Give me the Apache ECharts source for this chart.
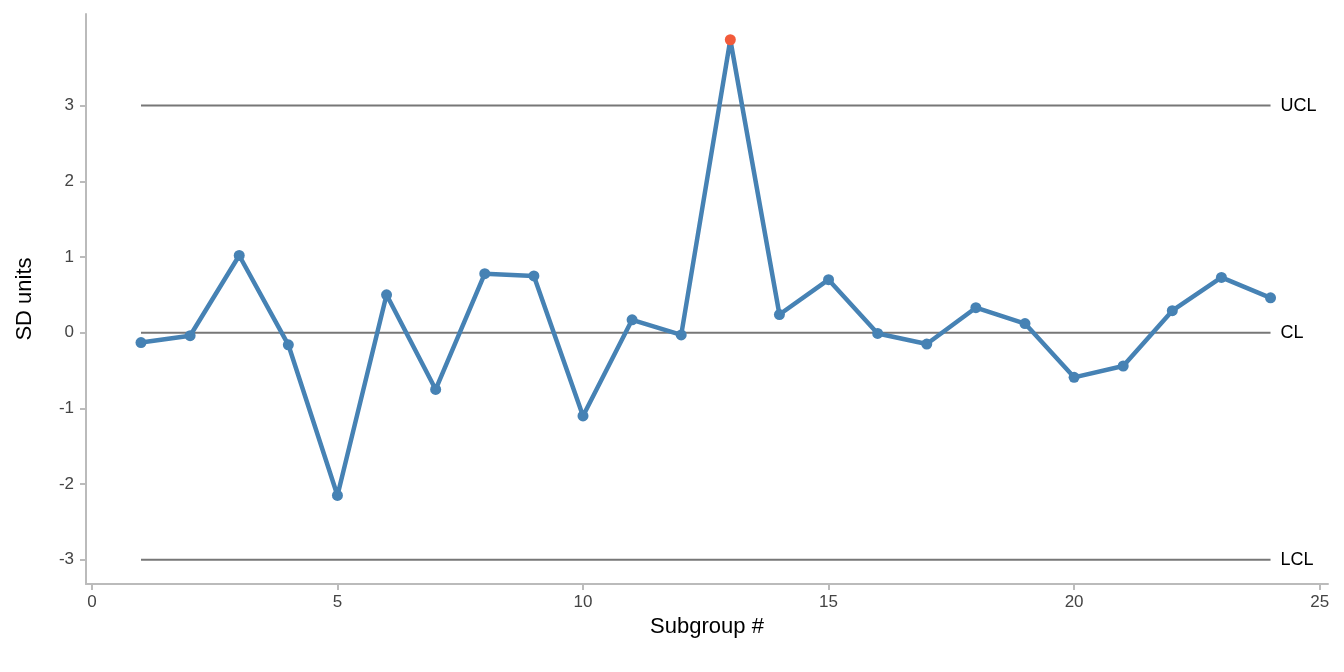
<!DOCTYPE html>
<html><head><meta charset="utf-8">
<script src="https://cdn.jsdelivr.net/npm/echarts@6/dist/echarts.min.js"></script>
<style>html,body{margin:0;padding:0;background:#fff}#c{width:1344px;height:672px}</style>
</head><body><div id="c"></div>
<script>
const subgroups = [1,2,3,4,5,6,7,8,9,10,11,12,13,14,15,16,17,18,19,20,21,22,23,24];
const values = [-0.13,-0.04,1.02,-0.16,-2.15,0.50,-0.75,0.78,0.75,-1.10,0.17,-0.03,3.87,0.24,0.70,-0.01,-0.15,0.33,0.12,-0.59,-0.44,0.29,0.73,0.46];
const limits = [{name:'UCL',v:3},{name:'CL',v:0},{name:'LCL',v:-3}];
const xTicks = [0,5,10,15,20,25];
const yTicks = [-3,-2,-1,0,1,2,3];
const UCL = 3, LCL = -3;
const font = 'Liberation Sans, Arial, sans-serif';
const chart = echarts.init(document.getElementById('c'));
const series = limits.map(l => ({
  type:'line', data:[[1,l.v],[24,l.v]], symbol:'none', silent:true,
  lineStyle:{color:'#777',width:2}, z:1,
  endLabel:{show:true, formatter:l.name, color:'#000', fontSize:18, fontFamily:font, distance:10}
}));
series.push({
  type:'line', data: subgroups.map((s,i)=>[s,values[i]]), symbol:'circle', symbolSize:11,
  lineStyle:{color:'#4682b4',width:4.5}, z:3,
  itemStyle:{color:(p)=> (p.value[1]>UCL||p.value[1]<LCL)?'#f25a3a':'#4682b4'}
});
chart.setOption({
  animation:false,
  grid:{left:86,right:16,top:14,bottom:88},
  xAxis:{type:'value',min:-0.12,max:25.17,name:'Subgroup #',nameLocation:'middle',nameGap:30,
    nameTextStyle:{fontSize:22,color:'#000',fontFamily:font},
    axisLine:{show:true,onZero:false,lineStyle:{color:'#bbb',width:2}},
    axisTick:{show:true,customValues:xTicks,length:6,lineStyle:{color:'#bbb',width:2}},
    axisLabel:{customValues:xTicks,fontSize:17,color:'#444',fontFamily:font,margin:10},
    splitLine:{show:false}},
  yAxis:{type:'value',min:-3.32,max:4.21,name:'SD units',nameLocation:'middle',nameGap:50,
    nameTextStyle:{fontSize:22,color:'#000',fontFamily:font},
    axisLine:{show:true,onZero:false,lineStyle:{color:'#bbb',width:2}},
    axisTick:{show:true,customValues:yTicks,length:6,lineStyle:{color:'#bbb',width:2}},
    axisLabel:{customValues:yTicks,fontSize:17,color:'#444',fontFamily:font,margin:12},
    splitLine:{show:false}},
  series
});
</script></body></html>
